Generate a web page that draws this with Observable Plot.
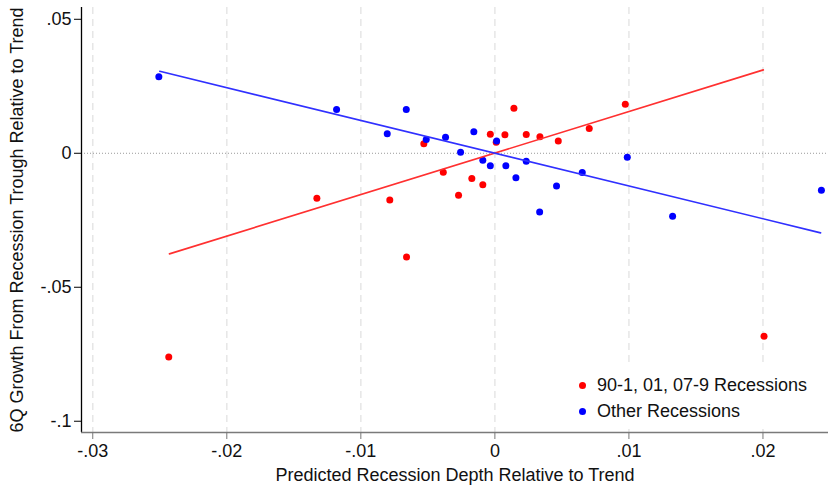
<!DOCTYPE html>
<html>
<head>
<meta charset="utf-8">
<script src="https://cdn.jsdelivr.net/npm/d3@7"></script>
<script src="https://cdn.jsdelivr.net/npm/@observablehq/plot@0.6"></script>
<style>
  html, body { margin: 0; padding: 0; background: #fff; }
  #wrap { position: relative; width: 828px; height: 486px; font-family: 'Liberation Sans', Arial, Helvetica, sans-serif; }
  .legend { position: absolute; left: 570px; top: 367px; background: #fff; padding: 5px 12px 5px 9px; font-size: 18px; color: #111; }
  .legend .row { height: 26px; line-height: 26px; white-space: nowrap; }
  .legend .sw { display: inline-block; width: 7px; height: 7px; border-radius: 50%; margin-right: 11px; vertical-align: 2px; }
</style>
</head>
<body>
<div id="wrap"></div>
<script>
// Axis settings
const xDomain = [-0.03084, 0.02489];
const yDomain = [-0.1042, 0.0544];
const xTicks = [-0.03, -0.02, -0.01, 0, 0.01, 0.02];
const xTickLabels = ["-.03", "-.02", "-.01", "0", ".01", ".02"];
const yTicks = [0.05, 0, -0.05, -0.1];
const yTickLabels = [".05", "0", "-.05", "-.1"];
const xTitle = "Predicted Recession Depth Relative to Trend";
const yTitle = "6Q Growth From Recession Trough Relative to Trend";
const seriesNames = ["90-1, 01, 07-9 Recessions", "Other Recessions"];

// Series: 90-1, 01, 07-9 recessions (red)
const redX = [-0.02433, -0.01328, -0.00784, -0.00659, -0.00530, -0.00385, -0.00271, -0.00172, -0.00090, -0.00034, 0.00010, 0.00075, 0.00142, 0.00234, 0.00336, 0.00473, 0.00704, 0.00973, 0.02008];
const redY = [-0.0760, -0.0168, -0.0174, -0.0387, 0.0036, -0.0071, -0.0157, -0.0094, -0.0117, 0.0071, 0.0041, 0.0069, 0.0168, 0.0070, 0.0062, 0.0046, 0.0092, 0.0183, -0.0683];

// Series: other recessions (blue)
const blueX = [-0.02507, -0.01181, -0.00803, -0.00661, -0.00512, -0.00368, -0.00256, -0.00157, -0.00090, -0.00034, 0.00013, 0.00082, 0.00157, 0.00234, 0.00334, 0.00460, 0.00652, 0.00988, 0.01326, 0.02436];
const blueY = [0.0286, 0.0163, 0.0073, 0.0163, 0.0051, 0.0060, 0.0004, 0.0080, -0.0026, -0.0047, 0.0046, -0.0047, -0.0091, -0.0030, -0.0219, -0.0122, -0.0072, -0.0015, -0.0235, -0.0138];

// Fitted lines (endpoints)
const redFitX = [-0.02428, 0.02003];
const redFitY = [-0.03754, 0.03112];
const blueFitX = [-0.02500, 0.02430];
const blueFitY = [0.03060, -0.02970];

const zip = (xs, ys) => xs.map((x, i) => ({x, y: ys[i]}));
const red = zip(redX, redY);
const blue = zip(blueX, blueY);
const redFit = zip(redFitX, redFitY);
const blueFit = zip(blueFitX, blueFitY);

const chart = Plot.plot({
  width: 828,
  height: 486,
  marginLeft: 81,
  marginRight: 0,
  marginTop: 7,
  marginBottom: 54,
  x: {domain: xDomain},
  y: {domain: yDomain},
  style: {fontFamily: "'Liberation Sans', Arial, Helvetica, sans-serif", fontSize: "18px", background: "#fff", color: "#111"},
  marks: [
    Plot.ruleX(xTicks, {stroke: "#e6e6e6", strokeWidth: 1.5, strokeDasharray: "7,5"}),
    Plot.ruleY([0], {stroke: "#9a9a9a", strokeWidth: 1, strokeDasharray: "1,2"}),
    Plot.dot(red, {x: "x", y: "y", r: 3.5, fill: "#ff0000", stroke: "none"}),
    Plot.dot(blue, {x: "x", y: "y", r: 3.5, fill: "#0000ff", stroke: "none"}),
    Plot.line(redFit, {x: "x", y: "y", stroke: "#ff3030", strokeWidth: 1.6}),
    Plot.line(blueFit, {x: "x", y: "y", stroke: "#3030ff", strokeWidth: 1.6}),
    Plot.ruleX([xDomain[0]], {stroke: "#000", strokeWidth: 1.3}),
    Plot.ruleY([yDomain[0]], {stroke: "#7a7a7a", strokeWidth: 1.6}),
    Plot.axisX({ticks: xTicks, tickFormat: d => xTickLabels[xTicks.indexOf(d)], tickSize: 7, tickPadding: 5, stroke: "#777", fill: "#111", fontSize: 18, label: null}),
    Plot.axisY({ticks: yTicks, tickFormat: d => yTickLabels[yTicks.indexOf(d)], tickSize: 7, tickPadding: 3, stroke: "#000", fill: "#111", fontSize: 18, label: null}),
    Plot.text([xTitle], {frameAnchor: "bottom", dy: 43, lineAnchor: "middle", textAnchor: "middle", text: d => d, fontSize: 18, fill: "#111"}),
    Plot.text([yTitle], {frameAnchor: "left", dx: -64, rotate: -90, lineAnchor: "middle", textAnchor: "middle", text: d => d, fontSize: 18, fill: "#111"})
  ]
});

const wrap = document.getElementById("wrap");
wrap.appendChild(chart);

const legend = document.createElement("div");
legend.className = "legend";
const colors = ["#ff0000", "#0000ff"];
seriesNames.forEach((name, i) => {
  const row = document.createElement("div");
  row.className = "row";
  const sw = document.createElement("span");
  sw.className = "sw";
  sw.style.background = colors[i];
  row.appendChild(sw);
  row.appendChild(document.createTextNode(name));
  legend.appendChild(row);
});
wrap.appendChild(legend);
</script>
</body>
</html>
